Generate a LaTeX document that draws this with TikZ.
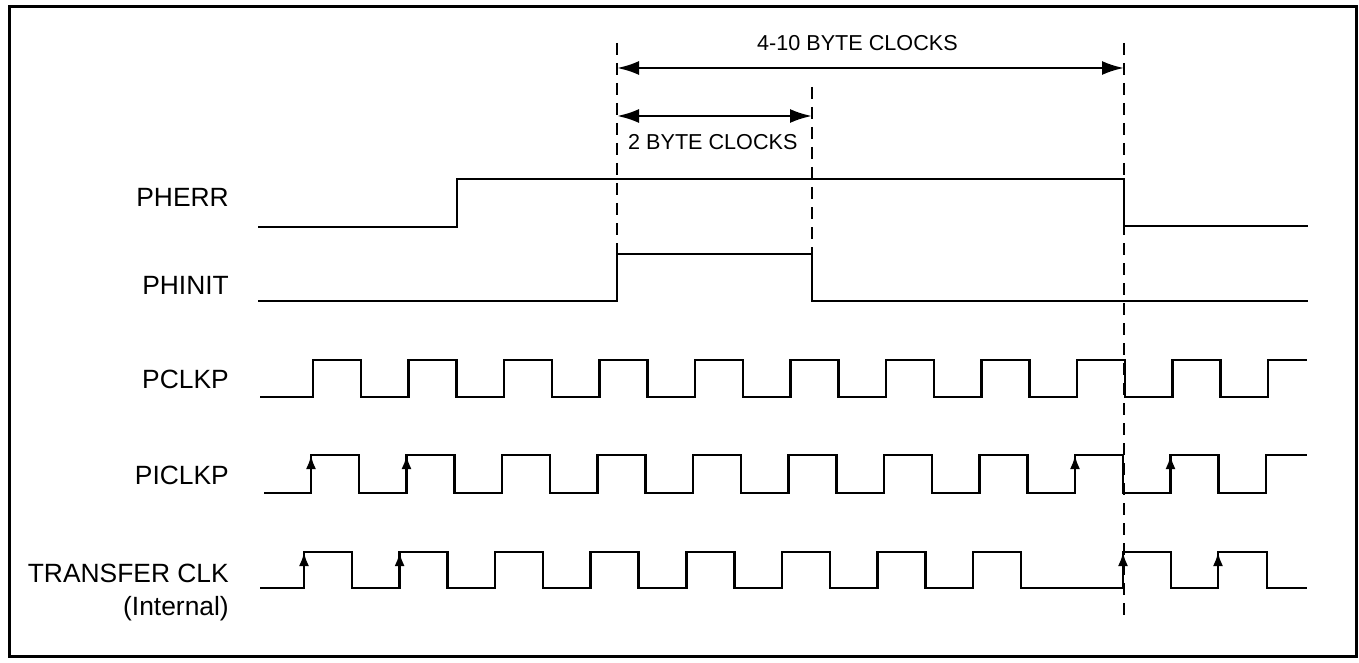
\documentclass[tikz,border=0pt]{standalone}
\usepackage{fontspec}
\setmainfont{Liberation Sans}
\usetikzlibrary{arrows.meta}
\begin{document}
\begin{tikzpicture}[x=1pt,y=-1pt,
  sig/.style={line width=2.6pt, line join=miter},
  dashv/.style={line width=2.6pt, dash pattern=on 12pt off 8pt},
  edgearrow/.style={line width=2.6pt, -{Latex[length=14pt,width=10pt]}},
  dimarrow/.style={line width=2.6pt, {Latex[length=22pt,width=14pt]}-{Latex[length=22pt,width=14pt]}},
  lbl/.style={anchor=base east, inner sep=0pt, font=\fontsize{26.4}{30}\selectfont},
  ann/.style={anchor=base west, inner sep=0pt, font=\fontsize{21.6}{26}\selectfont}]
\useasboundingbox (0,0) rectangle (1359,663);
\draw[line width=3pt] (9,7) rectangle (1356,656);

% labels
\node[lbl] (lpherr) at (229,207) {PHERR};
\node[lbl] (lphinit) at (229,294) {PHINIT};
\node[lbl] (lpclkp) at (229,388) {PCLKP};
\node[lbl] (lpiclkp) at (229,484) {PICLKP};
\node[lbl] (ltclk) at (229,582) {TRANSFER CLK};
\node[lbl] (lint) at (229,615) {(Internal)};

% PHERR
\draw[sig] (258,227) -- (457,227) -- (457,179) -- (1124,179) -- (1124,226) -- (1308,226);
% PHINIT
\draw[sig] (258,301) -- (617,301) -- (617,254) -- (812,254) -- (812,301) -- (1308,301);
% PCLKP
\draw[sig] (260,397) \foreach \k in {0,...,9} { -- ({313+95.5*\k},397) -- ({313+95.5*\k},360) -- ({361+95.5*\k},360) -- ({361+95.5*\k},397) } -- (1268,397) -- (1268,360) -- (1307,360);
% PICLKP
\draw[sig] (264,493) \foreach \k in {0,...,9} { -- ({311+95.5*\k},493) -- ({311+95.5*\k},455) -- ({359+95.5*\k},455) -- ({359+95.5*\k},493) } -- (1266,493) -- (1266,455) -- (1307,455);
\foreach \k in {0,1,8,9} { \draw[edgearrow] ({311+95.5*\k},480) -- ({311+95.5*\k},455); }
% TRANSFER CLK
\draw[sig] (260,588) \foreach \k in {0,...,7} { -- ({304+95.57*\k},588) -- ({304+95.57*\k},552) -- ({352+95.57*\k},552) -- ({352+95.57*\k},588) } -- (1123,588) -- (1123,552) -- (1171,552) -- (1171,588) -- (1218,588) -- (1218,552) -- (1267,552) -- (1267,588) -- (1307,588);
\foreach \x in {304,399.6,1123,1218} { \draw[edgearrow] (\x,578) -- (\x,552); }

% dashed reference lines
\coordinate (dA0) at (617,43);  \coordinate (dA1) at (617,254);
\coordinate (dB0) at (812,87);  \coordinate (dB1) at (812,254);
\coordinate (dC0) at (1124,43); \coordinate (dC1) at (1124,618);
\draw[dashv] (dA0) -- (dA1);
\draw[dashv] (dB0) -- (dB1);
\draw[dashv] (dC0) -- (dC1);

% dimension arrows
\coordinate (a1) at (617,68);  \coordinate (a2) at (1124,68);
\coordinate (b1) at (617,116); \coordinate (b2) at (812,116);
\draw[dimarrow] (a1) -- (a2);
\draw[dimarrow] (b1) -- (b2);
\node[ann] (t410) at (757,51) {4-10 BYTE CLOCKS};
\node[ann] (t2) at (628,150) {2 BYTE CLOCKS};
\end{tikzpicture}
\end{document}
